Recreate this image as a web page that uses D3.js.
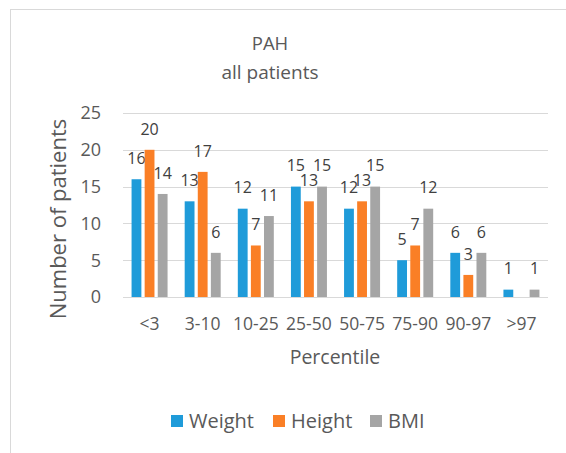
<!DOCTYPE html>
<html><head><meta charset="utf-8">
<script src="https://cdn.jsdelivr.net/npm/d3@7/dist/d3.min.js"></script>
<style>body{margin:0;background:#fff}svg{display:block}text{font-family:"Open Sans",sans-serif}</style>
</head><body><svg id="c" width="566" height="453"></svg>
<script>
const categories = ["<3","3-10","10-25","25-50","50-75","75-90","90-97",">97"];
const seriesNames = ["Weight","Height","BMI"];
const weight = [16,13,12,15,12,5,6,1];
const height = [20,17,7,13,13,7,3,null];
const bmi = [14,6,11,15,15,12,6,1];
const yTicks = [0,5,10,15,20,25];
const colors = ["#1F9BD9","#FA7F26","#A5A5A5"];
const series = [weight,height,bmi];

const svg = d3.select("#c");
svg.append("line").attr("x1",10.5).attr("x2",10.5).attr("y1",9).attr("y2",453).attr("stroke","#d9d9d9");
svg.append("line").attr("x1",10).attr("x2",566).attr("y1",9.5).attr("y2",9.5).attr("stroke","#d9d9d9");

const L=123, R=548, T=113, B=297;
const x = d3.scaleBand().domain(categories).range([L,R]);
const xs = d3.scaleBand().domain(seriesNames).range([0,36]).paddingInner(0.25);
const y = d3.scaleLinear().domain([0,25]).range([B,T]);

svg.append("g").selectAll("line").data(yTicks).join("line")
  .attr("x1",L).attr("x2",R).attr("y1",d=>Math.round(y(d))+0.5).attr("y2",d=>Math.round(y(d))+0.5)
  .attr("stroke","#d9d9d9");
svg.append("g").selectAll("text").data(yTicks).join("text")
  .attr("x",101).attr("y",d=>y(d)).attr("dy","0.36em").attr("text-anchor","end")
  .attr("font-size",18).attr("fill","#595959").text(d=>d);

const groups = svg.append("g").selectAll("g").data(categories).join("g")
  .attr("transform",d=>`translate(${x(d)+x.bandwidth()/2-18},0)`);
seriesNames.forEach((s,si)=>{
  groups.append("rect")
    .filter((d,i)=>series[si][i]!=null)
    .attr("x",xs(s)).attr("width",xs.bandwidth())
    .attr("y",(d,i)=>y(series[si][i])).attr("height",(d,i)=>B-y(series[si][i]))
    .attr("fill",colors[si]);
  groups.append("text")
    .filter((d,i)=>series[si][i]!=null)
    .attr("x",xs(s)+xs.bandwidth()/2).attr("y",(d,i)=>y(series[si][i])-21).attr("dy","0.36em")
    .attr("text-anchor","middle").attr("font-size",16).attr("fill","#404040")
    .text((d,i)=>series[si][i]);
});

svg.append("g").selectAll("text").data(categories).join("text")
  .attr("x",d=>x(d)+x.bandwidth()/2).attr("y",324).attr("dy","0.36em").attr("text-anchor","middle")
  .attr("font-size",17.5).attr("fill","#595959").text(d=>d);

svg.append("text").attr("x",335).attr("y",357).attr("dy","0.36em").attr("text-anchor","middle")
  .attr("font-size",19.5).attr("fill","#595959").text("Percentile");
svg.append("text").attr("transform","translate(58,219) rotate(-90)").attr("dy","0.36em").attr("text-anchor","middle")
  .attr("font-size",22).attr("fill","#595959").text("Number of patients");
svg.append("text").attr("x",270).attr("y",43).attr("dy","0.36em").attr("text-anchor","middle")
  .attr("font-size",18.5).attr("fill","#595959").text("PAH");
svg.append("text").attr("x",270).attr("y",72).attr("dy","0.36em").attr("text-anchor","middle")
  .attr("font-size",19).attr("fill","#595959").text("all patients");

const legX = [171,273,370];
const leg = svg.append("g").selectAll("g").data(seriesNames).join("g")
  .attr("transform",(d,i)=>`translate(${legX[i]},421)`);
leg.append("rect").attr("x",0).attr("y",-6).attr("width",12).attr("height",12).attr("fill",(d,i)=>colors[i]);
leg.append("text").attr("x",18).attr("y",0).attr("dy","0.36em").attr("font-size",20).attr("fill","#595959").text(d=>d);
</script></body></html>
